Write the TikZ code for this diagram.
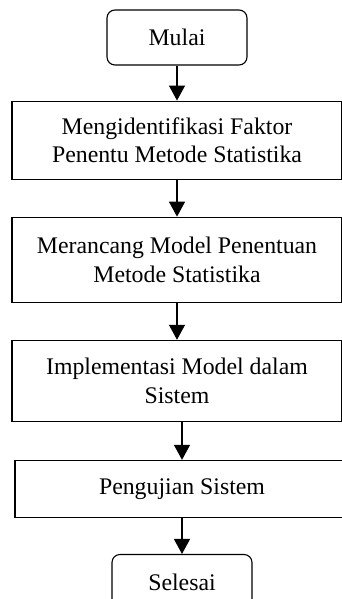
\documentclass[tikz,border=0pt]{standalone}
\usepackage{fontspec}
\setmainfont{Liberation Serif}
\usetikzlibrary{positioning}
\usetikzlibrary{arrows.meta}

\tikzset{
  terminal/.style={draw, line width=1.1pt, rounded corners=8pt,
    minimum width=140pt, minimum height=55pt, inner sep=0pt,
    font=\fontsize{23.8}{28.5}\selectfont},
  stepbox/.style={draw, line width=1.1pt, align=center, inner sep=0pt,
    minimum width=330pt, font=\fontsize{23.8}{28.5}\selectfont},
  flow/.style={-{Triangle[width=16pt,length=15pt]}, line width=1.3pt}
}

\begin{document}
\begin{tikzpicture}[x=1pt, y=-1pt]

  \useasboundingbox (0,0) rectangle (342,599);

  % Start and end
  \node[terminal] (mulai) at (177,37.5) {Mulai};

  % Steps
  \node[stepbox, minimum height=78pt, below=35pt of mulai] (step1)
        {Mengidentifikasi Faktor\\Penentu Metode Statistika};
  \node[stepbox, minimum height=85pt, below=37pt of step1] (step2)
        {Merancang Model Penentuan\\Metode Statistika};
  \node[stepbox, minimum height=81pt, below=37pt of step2] (step3)
        {Implementasi Model dalam\\Sistem};
  \node[stepbox, minimum height=57pt, minimum width=334pt,
        below=38pt of step3, xshift=5pt] (step4) {Pengujian Sistem};

  \node[terminal, below=36pt of step4] (selesai) {Selesai};

  % Connectors
  \draw[flow] (mulai) -- (step1);
  \draw[flow] (step1) -- (step2);
  \draw[flow] (step2) -- (step3);
  \draw[flow] (step3.south -| step4) -- (step4);
  \draw[flow] (step4) -- (selesai);

\end{tikzpicture}
\end{document}
